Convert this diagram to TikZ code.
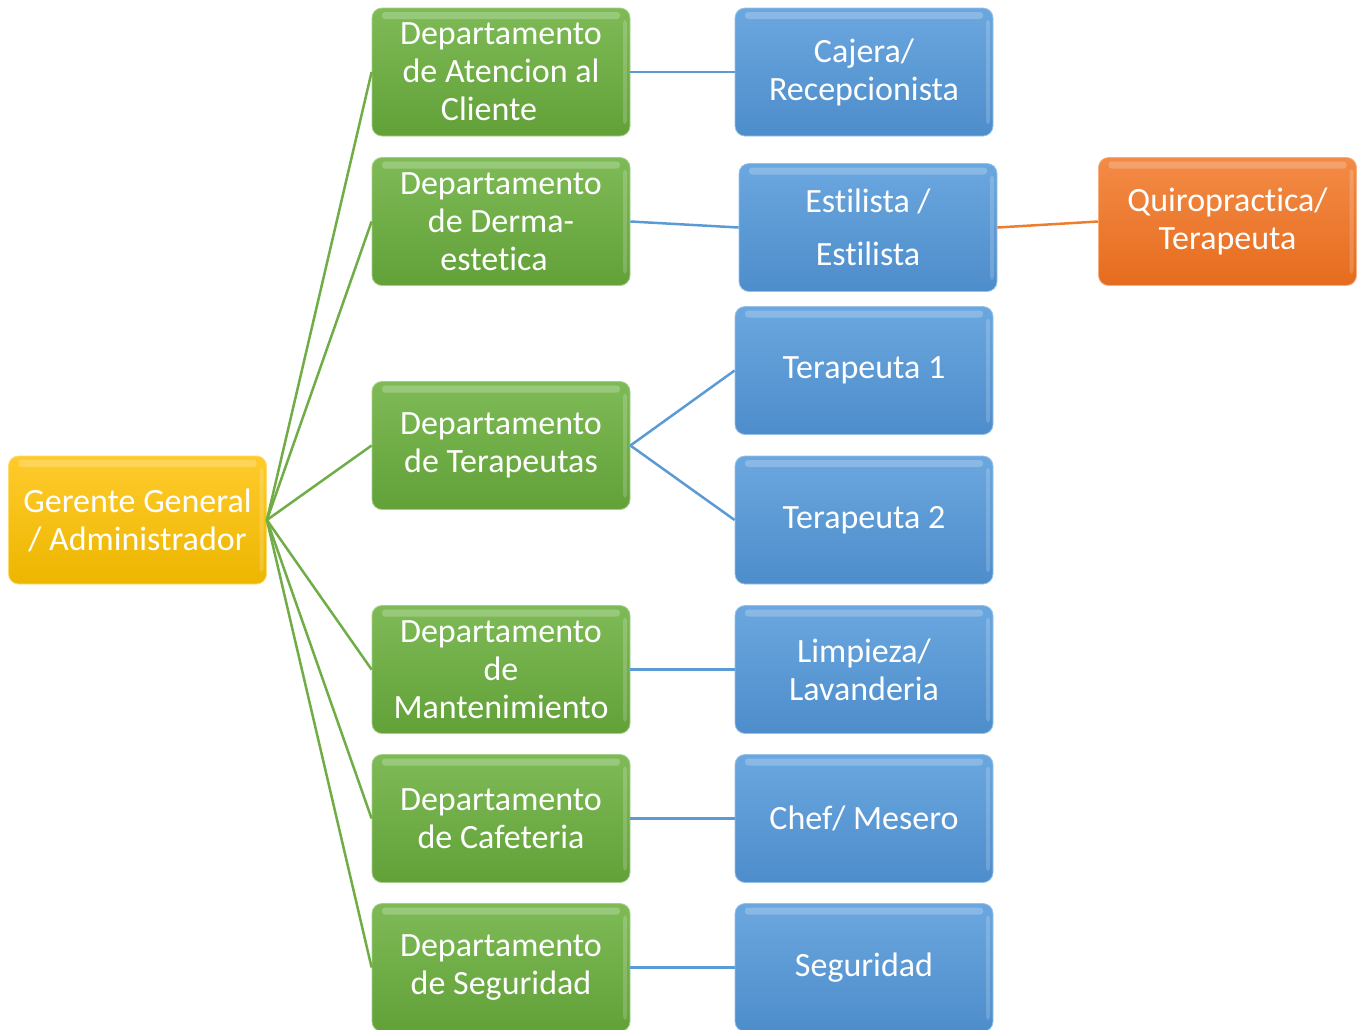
\documentclass[tikz,border=0pt]{standalone}
\usepackage{fontspec}
\setmainfont{Carlito}[Ligatures={NoCommon}]
\definecolor{goldT}{HTML}{FFCB2C}
\definecolor{goldB}{HTML}{EDB600}
\definecolor{greenT}{HTML}{7EBB57}
\definecolor{greenB}{HTML}{62A038}
\definecolor{blueT}{HTML}{6BA7DF}
\definecolor{blueB}{HTML}{4D8DCB}
\definecolor{orT}{HTML}{F38B46}
\definecolor{orB}{HTML}{E66C1E}
\definecolor{gline}{HTML}{70AD47}
\definecolor{bline}{HTML}{5B9BD5}
\definecolor{oline}{HTML}{ED7D31}
\tikzset{
  boxbase/.style={rounded corners=10pt, minimum width=258pt, minimum height=128pt,
    inner sep=2pt, align=center, text=white,
    font=\fontsize{34}{38}\selectfont,
    path picture={\fill[white,opacity=0.22,rounded corners=3pt]
      ([xshift=10pt,yshift=-4pt]path picture bounding box.north west) rectangle
      ([xshift=-10pt,yshift=-11pt]path picture bounding box.north east);
      \fill[white,opacity=0.18,rounded corners=3pt]
      ([xshift=-7pt,yshift=-12pt]path picture bounding box.north east) rectangle
      ([xshift=-3pt,yshift=12pt]path picture bounding box.south east);}},
  goldbox/.style={boxbase, top color=goldT, bottom color=goldB, draw=goldT!70!white, line width=0.8pt},
  greenbox/.style={boxbase, top color=greenT, bottom color=greenB, draw=greenT!70!white, line width=0.8pt},
  bluebox/.style={boxbase, top color=blueT, bottom color=blueB, draw=blueT!70!white, line width=0.8pt},
  orbox/.style={boxbase, top color=orT, bottom color=orB, draw=orT!70!white, line width=0.8pt},
  gconn/.style={draw=gline, line width=2.5pt},
  bconn/.style={draw=bline, line width=2.5pt},
  oconn/.style={draw=oline, line width=2.5pt}
}
\begin{document}
\begin{tikzpicture}[x=1pt,y=-1pt]
\useasboundingbox (0,0) rectangle (1361,1029);
\node[goldbox] (ger) at (137.5,520) {Gerente General\\/ Administrador};
\node[greenbox] (d1) at (501,72) {Departamento\\de Atencion al\\Cliente\rule{24pt}{0pt}};
\node[greenbox] (d2) at (501,221.5) {Departamento\\de Derma-\\estetica\rule{14pt}{0pt}};
\node[greenbox] (d3) at (501,445.5) {Departamento\\de Terapeutas};
\node[greenbox] (d4) at (501,669.5) {Departamento\\de\\Mantenimiento};
\node[greenbox] (d5) at (501,818.5) {Departamento\\de Cafeteria};
\node[greenbox] (d6) at (501,967.5) {Departamento\\de Seguridad};
\node[bluebox] (b1) at (864,72) {Cajera/\\Recepcionista};
\node[bluebox] (b2) at (868,227.5) {Estilista /\\[15pt]Estilista};
\node[bluebox] (b3) at (864,370.5) {Terapeuta 1};
\node[bluebox] (b4) at (864,520) {Terapeuta 2};
\node[bluebox] (b5) at (864,669.5) {Limpieza/\\Lavanderia};
\node[bluebox] (b6) at (864,818.5) {Chef/ Mesero};
\node[bluebox] (b7) at (864,967.5) {Seguridad};
\node[orbox] (o1) at (1227.5,221.5) {Quiropractica/\\Terapeuta};
\foreach \d in {d1,d2,d3,d4,d5,d6} {\draw[gconn] (ger.east) -- (\d.west);}
\draw[bconn] (d1.east) -- (b1.west);
\draw[bconn] (d2.east) -- (b2.west);
\draw[bconn] (d3.east) -- (b3.west);
\draw[bconn] (d3.east) -- (b4.west);
\draw[bconn] (d4.east) -- (b5.west);
\draw[bconn] (d5.east) -- (b6.west);
\draw[bconn] (d6.east) -- (b7.west);
\draw[oconn] (b2.east) -- (o1.west);
\end{tikzpicture}
\end{document}
